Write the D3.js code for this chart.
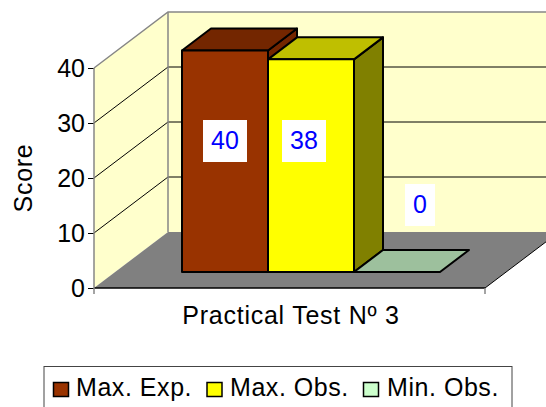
<!DOCTYPE html>
<html>
<head>
<meta charset="utf-8">
<script src="https://cdn.jsdelivr.net/npm/d3@7"></script>
<style>
html, body { margin: 0; padding: 0; background: #fff; }
svg { display: block; }
text { font-family: "Liberation Sans", Arial, sans-serif; fill: #000; }
</style>
</head>
<body>
<div id="chart"></div>
<script>
var category = "Practical Test Nº 3";
var seriesNames = ["Max. Exp.", "Max. Obs.", "Min. Obs."];
var seriesValues = [40, 38.4, 0];
var yTicks = [0, 10, 20, 30, 40];

var front = ["#993300", "#ffff00", "#ccffcc"];
var top3d = ["#732600", "#bfbf00", "#9dc09d"];
var side = ["#732600", "#808000", "#9dc09d"];

var width = 546, height = 407;

var svg = d3.select("#chart").append("svg")
    .attr("width", width)
    .attr("height", height);

// y for the front of the box, barY for the front of the bars
var y = d3.scaleLinear().domain([0, 40]).range([288, 68]);
var barY = d3.scaleLinear().domain([0, 40]).range([272, 50.5]);
var x = d3.scaleBand().domain(seriesNames).range([182, 440]).padding(0);

var depthX = 74, depthY = -56;   // wall depth
var barDX = 29, barDY = -22;     // bar depth
var left = 94, right = 485;

function pts(a) { return a.map(function(p) { return p.join(","); }).join(" "); }

// walls
svg.append("rect")
    .attr("x", left + depthX).attr("y", y(40) + depthY)
    .attr("width", width - left - depthX).attr("height", y(0) - y(40))
    .attr("fill", "#ffffcc");
svg.append("polygon")
    .attr("points", pts([[left, y(40)], [left + depthX, y(40) + depthY], [left + depthX, y(0) + depthY], [left, y(0)]]))
    .attr("fill", "#ffffcc");

// floor
svg.append("polygon")
    .attr("points", pts([[left, y(0)], [left + depthX, y(0) + depthY], [right + depthX, y(0) + depthY], [right, y(0)]]))
    .attr("fill", "#808080");

// gridlines
yTicks.filter(function(d) { return d > 0 && d < 40; }).forEach(function(d) {
    svg.append("polyline")
        .attr("points", pts([[left, y(d)], [left + depthX, y(d) + depthY], [width, y(d) + depthY]]))
        .attr("fill", "none").attr("stroke", "#000").attr("stroke-width", 1);
});

// wall edges
svg.append("polyline")
    .attr("points", pts([[left, y(40)], [left + depthX, y(40) + depthY], [width, y(40) + depthY]]))
    .attr("fill", "none").attr("stroke", "#868686").attr("stroke-width", 1.5);
svg.append("line")
    .attr("x1", left + depthX).attr("x2", left + depthX)
    .attr("y1", y(40) + depthY).attr("y2", y(0) + depthY)
    .attr("stroke", "#868686").attr("stroke-width", 1.5);
svg.append("line")
    .attr("x1", right).attr("x2", right + depthX)
    .attr("y1", y(0)).attr("y2", y(0) + depthY)
    .attr("stroke", "#000").attr("stroke-width", 1);

// bars
seriesNames.forEach(function(name, i) {
    var x0 = x(name), x1 = x0 + x.bandwidth();
    var yb = barY(0), yt = barY(seriesValues[i]);
    var g = svg.append("g")
        .attr("stroke", "#000").attr("stroke-width", 2).attr("stroke-linejoin", "round");
    if (seriesValues[i] > 0) {
        g.append("polygon").attr("fill", side[i])
            .attr("points", pts([[x1, yt], [x1 + barDX, yt + barDY], [x1 + barDX, yb + barDY], [x1, yb]]));
        g.append("polygon").attr("fill", top3d[i])
            .attr("points", pts([[x0, yt], [x0 + barDX, yt + barDY], [x1 + barDX, yt + barDY], [x1, yt]]));
        g.append("rect").attr("fill", front[i])
            .attr("x", x0).attr("y", yt).attr("width", x1 - x0).attr("height", yb - yt);
    } else {
        g.append("polygon").attr("fill", top3d[i])
            .attr("points", pts([[x0, yb], [x0 + barDX, yb + barDY], [x1 + barDX, yb + barDY], [x1, yb]]));
    }
});

// front floor edge
svg.append("line")
    .attr("x1", left).attr("x2", right)
    .attr("y1", y(0)).attr("y2", y(0))
    .attr("stroke", "#000").attr("stroke-width", 1.5);
svg.append("line")
    .attr("x1", right).attr("x2", right)
    .attr("y1", y(0)).attr("y2", y(0) + 6)
    .attr("stroke", "#868686").attr("stroke-width", 1.5);

// y axis
var yAxis = d3.axisLeft(y).tickValues(yTicks).tickSize(6).tickPadding(3);
var axisG = svg.append("g")
    .attr("transform", "translate(" + left + ",0)")
    .call(yAxis);
axisG.select(".domain").remove();
axisG.selectAll(".tick line").attr("stroke", "#000").attr("stroke-width", 1);
axisG.selectAll(".tick text")
    .style("font-size", "25px")
    .style("font-family", "'Liberation Sans', Arial, sans-serif")
    .attr("fill", "#000");
svg.append("line")
    .attr("x1", left).attr("x2", left)
    .attr("y1", y(40)).attr("y2", y(0) + 6)
    .attr("stroke", "#868686").attr("stroke-width", 1.5);

// axis titles
svg.append("text")
    .attr("transform", "translate(32,178) rotate(-90)")
    .attr("text-anchor", "middle")
    .style("font-size", "25px")
    .style("letter-spacing", "0.75px")
    .text("Score");
svg.append("text")
    .attr("x", 291).attr("y", 324)
    .attr("text-anchor", "middle")
    .style("font-size", "25px")
    .style("letter-spacing", "0.75px")
    .text(category);

// data labels
var labelY = [140, 140, 204];
var labelShift = [0, -7, 23];
seriesNames.forEach(function(name, i) {
    var cx = x(name) + x.bandwidth() / 2 + labelShift[i];
    var s = d3.format(".0f")(seriesValues[i]);
    var w = s.length * 14 + 16;
    svg.append("rect")
        .attr("x", cx - w / 2).attr("y", labelY[i] - 20)
        .attr("width", w).attr("height", 42)
        .attr("fill", "#fff");
    svg.append("text")
        .attr("x", cx).attr("y", labelY[i] + 9)
        .attr("text-anchor", "middle")
        .style("font-size", "25px")
        .style("fill", "#0000ff")
        .text(s);
});

// legend
svg.append("rect")
    .attr("x", 44).attr("y", 366.5)
    .attr("width", 468).attr("height", 60)
    .attr("fill", "#fff").attr("stroke", "#444").attr("stroke-width", 1);
var legendX = [53.5, 207, 363.5];
var legendTextX = [76, 230, 387];
seriesNames.forEach(function(name, i) {
    svg.append("rect")
        .attr("x", legendX[i]).attr("y", 382.5)
        .attr("width", 15).attr("height", 14)
        .attr("fill", front[i]).attr("stroke", "#000").attr("stroke-width", 1.5);
    svg.append("text")
        .attr("x", legendTextX[i]).attr("y", 396)
        .style("font-size", "25px")
        .style("letter-spacing", "0.55px")
        .text(name);
});
</script>
</body>
</html>
